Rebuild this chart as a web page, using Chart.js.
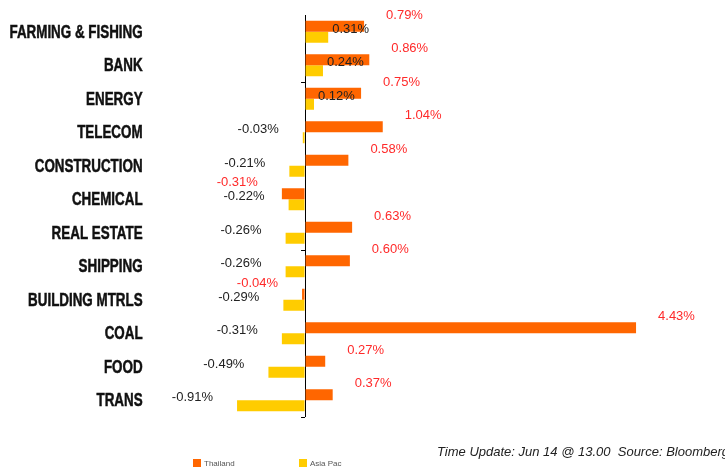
<!DOCTYPE html>
<html>
<head>
<meta charset="utf-8">
<script src="https://cdn.jsdelivr.net/npm/chart.js@4"></script>
<style>
  html, body { margin: 0; padding: 0; background: #fff; overflow: hidden; }
  #wrap { position: relative; width: 725px; height: 472px; }
  #note { position: absolute; left: 437px; top: 444px; white-space: nowrap;
          font: italic 13px "Liberation Sans", Arial, sans-serif; color: #222; }
  #legend { position: absolute; left: 0; top: 459px; width: 725px; height: 13px; }
  .lg { position: absolute; font: 8px "Liberation Sans", Arial, sans-serif; color: #555; }
  .lg span { display: inline-block; width: 8px; height: 8px; margin-right: 3px; vertical-align: -1px; }
</style>
</head>
<body>
<div id="wrap">
  <canvas id="sectorChart" width="725" height="472"></canvas>
  <div id="note">Time Update: Jun 14 @ 13.00&nbsp; Source: Bloomberg</div>
  <div id="legend"></div>
</div>
<script>
var sectors = ["FARMING & FISHING", "BANK", "ENERGY", "TELECOM", "CONSTRUCTION", "CHEMICAL",
               "REAL ESTATE", "SHIPPING", "BUILDING MTRLS", "COAL", "FOOD", "TRANS"];
var thailand = [0.79, 0.86, 0.75, 1.04, 0.58, -0.31, 0.63, 0.60, -0.04, 4.43, 0.27, 0.37];
var asiaPac = [0.31, 0.24, 0.12, -0.03, -0.21, -0.22, -0.26, -0.26, -0.29, -0.31, -0.49, -0.91];
var seriesNames = ["Thailand", "Asia Pac"];

// category names, condensed bold (no narrow font installed, so squeeze it)
var categoryLabels = {
    id: 'categoryLabels',
    afterDraw: function(chart) {
        var c = chart.ctx, y = chart.scales.y;
        var right = chart.chartArea.left - 13;
        c.save();
        c.font = 'bold 17.5px "Liberation Sans", Arial, sans-serif';
        c.fillStyle = '#111';
        c.strokeStyle = '#111';
        c.lineWidth = 0.5;
        c.textAlign = 'right';
        c.textBaseline = 'middle';
        chart.data.labels.forEach(function(lbl, i) {
            c.save();
            c.translate(right, y.getPixelForValue(i) + 1);
            c.scale(0.765, 1);
            c.fillText(lbl, 0, 0);
            c.strokeText(lbl, 0, 0);
            c.restore();
        });
        c.restore();
    }
};

// value labels, drawn next to the bar ends
var valueLabels = {
    id: 'valueLabels',
    afterDatasetsDraw: function(chart) {
        var c = chart.ctx;
        c.save();
        c.font = '13px "Liberation Sans", Arial, sans-serif';
        c.textBaseline = 'middle';
        chart.data.datasets.forEach(function(ds, di) {
            var meta = chart.getDatasetMeta(di);
            meta.data.forEach(function(bar, i) {
                var v = ds.data[i];
                var txt = v.toFixed(2) + '%';
                c.fillStyle = di === 0 ? '#ff2a2a' : '#222';
                var dy = di === 0 ? -11 : -8;
                if (v >= 0) {
                    c.textAlign = 'left';
                    c.fillText(txt, bar.x + (di === 0 ? 22 : 4), bar.y + dy);
                } else {
                    c.textAlign = 'right';
                    c.fillText(txt, bar.x - 24, bar.y + dy);
                }
            });
        });
        c.restore();
    }
};

// small tick marks on the zero axis, every 5 categories
var axisTicks = {
    id: 'axisTicks',
    afterDraw: function(chart) {
        var c = chart.ctx, x = chart.scales.x.getPixelForValue(0), y = chart.scales.y;
        c.save();
        c.strokeStyle = '#000';
        c.lineWidth = 1;
        [2, 7, 12].forEach(function(k) {
            var py = Math.round(y.getPixelForValue(k - 0.5)) + 0.5;
            c.beginPath();
            c.moveTo(x - 4, py);
            c.lineTo(x, py);
            c.stroke();
        });
        c.restore();
    }
};

var ctx = document.getElementById('sectorChart');
var myChart = new Chart(ctx, {
    type: 'bar',
    data: {
        labels: sectors,
        datasets: [{
            label: seriesNames[0],
            data: thailand,
            backgroundColor: '#ff6600',
            borderWidth: 0,
            categoryPercentage: 0.66,
            barPercentage: 1.0
        }, {
            label: seriesNames[1],
            data: asiaPac,
            backgroundColor: '#ffcc00',
            borderWidth: 0,
            categoryPercentage: 0.66,
            barPercentage: 1.0
        }]
    },
    options: {
        indexAxis: 'y',
        responsive: false,
        animation: false,
        layout: { padding: { top: 15, bottom: 55, right: 9, left: 0 } },
        plugins: {
            legend: { display: false },
            tooltip: { enabled: false }
        },
        scales: {
            x: {
                min: -2,
                max: 5.5,
                ticks: { display: false, stepSize: 0.5 },
                border: { display: false },
                grid: {
                    drawTicks: false,
                    color: function(c) { return c.tick && c.tick.value === 0 ? '#000' : 'rgba(0,0,0,0)'; }
                },
                afterFit: function(s) { s.height = 0; }
            },
            y: {
                border: { display: false },
                grid: { display: false },
                ticks: { display: false },
                afterFit: function(s) { s.width = 155.6; }
            }
        }
    },
    plugins: [valueLabels, axisTicks, categoryLabels]
});

// legend below the chart
var lg = document.getElementById('legend');
[193, 299].forEach(function(left, i) {
    var d = document.createElement('div');
    d.className = 'lg';
    d.style.left = left + 'px';
    d.innerHTML = '<span style="background:' + myChart.data.datasets[i].backgroundColor + '"></span>' + seriesNames[i];
    lg.appendChild(d);
});
</script>
</body>
</html>
